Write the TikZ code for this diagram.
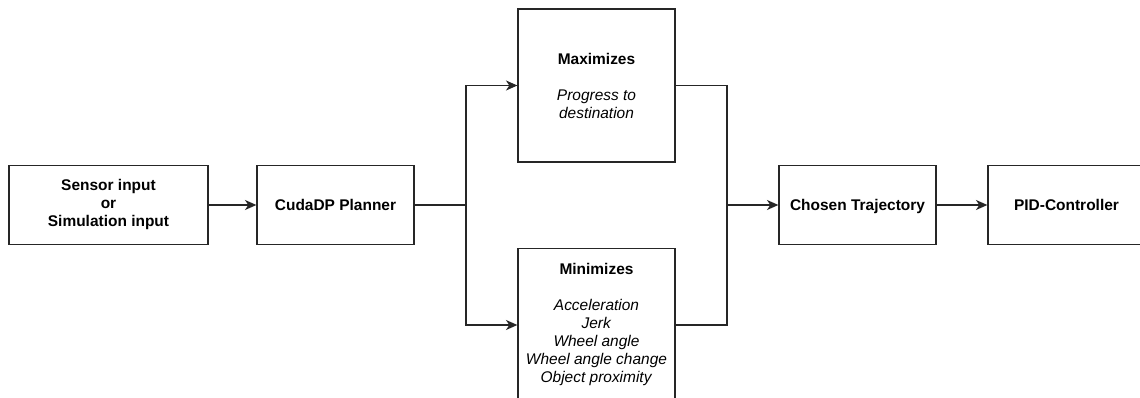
\documentclass[tikz,border=0pt]{standalone}
\usepackage{fontspec}
\setmainfont{Liberation Sans}
\usetikzlibrary{arrows.meta}

\tikzset{
  blocco/.style={draw=black!85, line width=1pt, fill=white, align=center,
    minimum width=117.75pt, minimum height=59.25pt, inner sep=2pt,
    font=\fontsize{11.6}{13.5}\selectfont},
  riga/.style={blocco, text height=8.3pt, text depth=0pt},
  grande/.style={blocco, minimum height=114.75pt},
  freccia/.style={draw=black!85, line width=1pt,
    -{Stealth[length=8.5pt,width=7.5pt,inset=2.5pt]}},
  linea/.style={draw=black!85, line width=1pt}
}

\begin{document}
\begin{tikzpicture}[x=0.75pt,y=-0.75pt]
    % area visibile (il blocco PID e quello in basso escono dal bordo)
    \clip (0,0) rectangle (1140,398);
    \fill[white] (0,0) rectangle (1140,398);

    % blocchi
    \node[blocco, minimum width=149.25pt] (sensor) at (108.5,205)
      {\textbf{Sensor input}\\\textbf{or}\\\textbf{Simulation input}};
    \node[riga] (planner) at (335.5,205) {\textbf{CudaDP Planner}};
    \node[grande] (maxi) at (596.5,85.5)
      {\textbf{Maximizes}\\[13.5pt]\textit{Progress to}\\\textit{destination}};
    \node[grande] (mini) at (596.5,325)
      {\textbf{Minimizes}\\[13.5pt]\textit{Acceleration}\\\textit{Jerk}\\
       \textit{Wheel angle}\\\textit{Wheel angle change}\\\textit{Object proximity}};
    \node[riga] (chosen) at (857.5,205) {\textbf{Chosen Trajectory}};
    \node[riga] (pid) at (1066.5,205) {\textbf{PID-Controller}};

    % punti di diramazione
    \coordinate (split) at (466,205);
    \coordinate (merge) at (727,205);

    % collegamenti
    \draw[freccia] (sensor) -- (planner);
    \draw[linea] (planner) -- (split);
    \draw[freccia] (split) |- (maxi);
    \draw[freccia] (split) |- (mini);
    \draw[linea] (maxi) -| (merge);
    \draw[linea] (mini) -| (merge);
    \draw[freccia] (merge) -- (chosen);
    \draw[freccia] (chosen) -- (pid);
  \end{tikzpicture}
\end{document}
